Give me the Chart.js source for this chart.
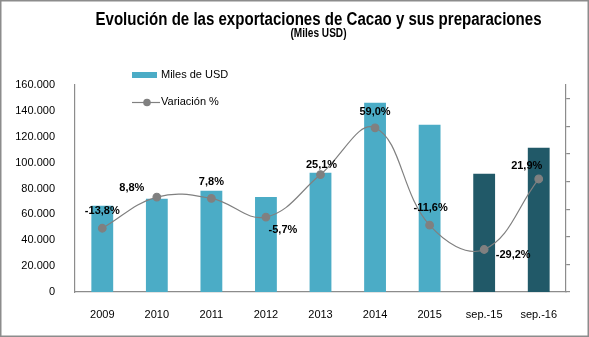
<!DOCTYPE html>
<html>
<head>
<meta charset="utf-8">
<script src="https://cdn.jsdelivr.net/npm/chart.js@4"></script>
<style>
  html, body { margin: 0; padding: 0; background: #fff; }
  #wrap { width: 589px; height: 337px; }
</style>
</head>
<body>
<div id="wrap"><canvas id="myChart" width="589" height="337"></canvas></div>
<script>
const periodos = ["2009", "2010", "2011", "2012", "2013", "2014", "2015", "sep.-15", "sep.-16"];
const milesUSD = [66600, 72000, 78200, 73500, 92100, 146300, 129300, 91400, 111500];
const variacion = [-13.8, 8.8, 7.8, -5.7, 25.1, 59.0, -11.6, -29.2, 21.9];
const ticksMiles = [0, 20000, 40000, 60000, 80000, 100000, 120000, 140000, 160000];

const azul = "#4BACC6";
const azulOscuro = "#215968";
const gris = "#808080";

// offsets of the % labels relative to each point (Excel placed them by hand)
const labelOffsets = [[0, -17], [-25, -9], [0, -16], [17, 13], [1, -10], [0, -16], [1, -17], [29, 5], [-12, -13]];

const fmtMiles = (v) => (v === 0 ? "0" : v.toLocaleString("de-DE"));
const fmtPct = (v) => v.toFixed(1).replace(".", ",") + "%";

// narrow text: no Arial Narrow here, so squeeze Liberation Sans
function textoAngosto(c, txt, cx, y, ancho) {
  const w = c.measureText(txt).width;
  const k = ancho / w;
  c.save();
  c.translate(cx, y);
  c.scale(k, 1);
  c.fillText(txt, 0, 0);
  c.restore();
}

const marco = {
  id: "marco",
  beforeDraw(chart) {
    const c = chart.ctx;
    c.save();
    c.fillStyle = "#fff";
    c.fillRect(0, 0, chart.width, chart.height);
    c.strokeStyle = "#8c8c8c";
    c.lineWidth = 1.5;
    c.strokeRect(0.75, 0.75, chart.width - 1.5, chart.height - 1.5);
    c.restore();
  },
  afterDraw(chart) {
    const c = chart.ctx;
    const a = chart.chartArea;
    const cx = (a.left + a.right) / 2;
    c.save();
    c.fillStyle = "#000";
    c.textAlign = "center";
    c.textBaseline = "alphabetic";
    c.font = "bold 18px 'Liberation Sans', Arial, sans-serif";
    textoAngosto(c, "Evolución de las exportaciones de Cacao y sus preparaciones", cx - 2, 25, 446);
    c.font = "bold 12px 'Liberation Sans', Arial, sans-serif";
    textoAngosto(c, "(Miles USD)", cx - 2, 37, 56);

    // legend inside the plot
    c.textAlign = "left";
    c.textBaseline = "middle";
    c.font = "11px 'Liberation Sans', Arial, sans-serif";
    c.fillStyle = azul;
    c.fillRect(132, 72, 25, 6);
    c.fillStyle = "#000";
    c.fillText("Miles de USD", 161, 75);
    c.strokeStyle = gris;
    c.lineWidth = 1.2;
    c.beginPath();
    c.moveTo(132, 102.5);
    c.lineTo(160, 102.5);
    c.stroke();
    c.fillStyle = gris;
    c.beginPath();
    c.arc(147, 102.5, 3.8, 0, Math.PI * 2);
    c.fill();
    c.fillStyle = "#000";
    c.fillText("Variación %", 161, 102);
    c.restore();
  },
  afterDatasetsDraw(chart) {
    const meta = chart.getDatasetMeta(1);
    const c = chart.ctx;
    c.save();
    c.font = "bold 11px 'Liberation Sans', Arial, sans-serif";
    c.fillStyle = "#000";
    c.textAlign = "center";
    c.textBaseline = "middle";
    meta.data.forEach((pt, i) => {
      const off = labelOffsets[i];
      c.fillText(fmtPct(variacion[i]), pt.x + off[0], pt.y + off[1]);
    });
    c.restore();
  },
};

const ctx = document.getElementById("myChart").getContext("2d");

const myChart = new Chart(ctx, {
  data: {
    labels: periodos,
    datasets: [
      {
        type: "bar",
        label: "Miles de USD",
        data: milesUSD,
        backgroundColor: periodos.map((p) => (p.startsWith("sep") ? azulOscuro : azul)),
        barPercentage: 0.4,
        categoryPercentage: 1.0,
        yAxisID: "y",
        order: 2,
      },
      {
        type: "line",
        label: "Variación %",
        data: variacion,
        borderColor: gris,
        borderWidth: 1.2,
        backgroundColor: gris,
        pointBackgroundColor: gris,
        pointBorderColor: gris,
        pointRadius: 3.8,
        tension: 0.4,
        yAxisID: "y1",
        order: 1,
      },
    ],
  },
  options: {
    responsive: false,
    animation: false,
    layout: { padding: { top: 85, left: 0, right: 0, bottom: 0 } },
    plugins: {
      legend: { display: false },
      tooltip: { enabled: false },
    },
    scales: {
      x: {
        grid: { display: false },
        border: { color: "#8c8c8c", width: 1.2 },
        ticks: {
          color: "#000",
          padding: 8,
          font: { family: "'Liberation Sans', Arial, sans-serif", size: 11 },
        },
        afterFit(scale) {
          scale.height = 45;
        },
      },
      y: {
        position: "left",
        min: 0,
        max: 160000,
        grid: { display: false },
        border: { color: "#8c8c8c", width: 1.2 },
        afterBuildTicks(scale) {
          scale.ticks = ticksMiles.map((v) => ({ value: v }));
        },
        ticks: {
          color: "#000",
          padding: 12,
          font: { family: "'Liberation Sans', Arial, sans-serif", size: 11 },
          callback: (v) => fmtMiles(v),
        },
        afterFit(scale) {
          scale.width = 75;
        },
      },
      y1: {
        position: "right",
        min: -60,
        max: 90,
        border: { color: "#8c8c8c", width: 1.2 },
        grid: {
          drawOnChartArea: false,
          drawTicks: true,
          tickLength: 4,
          color: "#8c8c8c",
          lineWidth: 1.2,
        },
        afterBuildTicks(scale) {
          scale.ticks = [-60, -40, -20, 0, 20, 40, 60, 80].map((v) => ({ value: v }));
        },
        ticks: { display: false },
        afterFit(scale) {
          scale.width = 23;
        },
      },
    },
  },
  plugins: [marco],
});
</script>
</body>
</html>
